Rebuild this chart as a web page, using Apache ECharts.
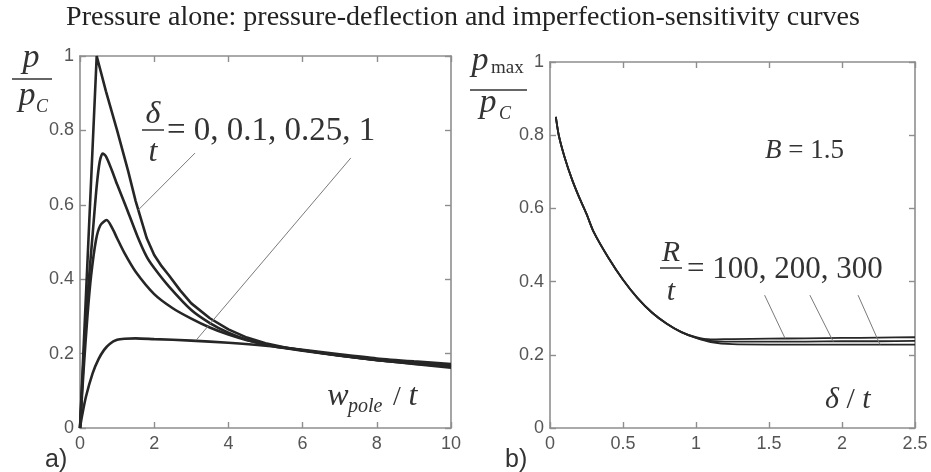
<!DOCTYPE html>
<html>
<head>
<meta charset="utf-8">
<script src="https://cdn.jsdelivr.net/npm/echarts@6/dist/echarts.min.js"></script>
<style>
  html, body { margin: 0; padding: 0; background: #fff; }
  #chart { width: 931px; height: 472px; }
</style>
</head>
<body>
<div id="chart"></div>
<script>
// ---- Panel a): pressure-deflection curves, x = w_pole/t, y = p/p_C ----
const imperfectionLevels = ['0', '0.1', '0.25', '1'];
const curveDelta0 = [[0,0],[0.45,1.0],[0.7,0.905],[1.0,0.80],[1.3,0.69],[1.5,0.61],[1.8,0.51],[2.0,0.465],[2.2,0.435],[2.4,0.41],[2.7,0.37],[3.0,0.335],[3.5,0.295],[4.0,0.265],[4.5,0.243],[5.0,0.228],[5.5,0.217],[6.0,0.209],[7.0,0.195],[8.0,0.183],[9.0,0.172],[10.0,0.162]];
const curveDelta01 = [[0,0],[0.1,0.19],[0.2,0.35],[0.34,0.52],[0.45,0.65],[0.53,0.715],[0.61,0.738],[0.7,0.73],[0.85,0.695],[1.0,0.655],[1.24,0.595],[1.55,0.515],[1.8,0.46],[2.0,0.43],[2.4,0.38],[3.0,0.317],[3.5,0.282],[4.0,0.256],[4.5,0.237],[5.0,0.224],[5.5,0.215],[6.0,0.208],[7.0,0.194],[8.0,0.182],[9.0,0.173],[10.0,0.165]];
const curveDelta025 = [[0,0],[0.1,0.16],[0.2,0.3],[0.3,0.41],[0.43,0.505],[0.55,0.545],[0.72,0.559],[0.88,0.535],[1.0,0.51],[1.2,0.47],[1.5,0.42],[2.0,0.36],[2.5,0.322],[3.0,0.294],[3.5,0.27],[4.0,0.251],[4.5,0.236],[5.0,0.225],[5.5,0.216],[6.0,0.209],[7.0,0.195],[8.0,0.183],[9.0,0.175],[10.0,0.168]];
const curveDelta1 = [[0,0],[0.05,0.03],[0.16,0.084],[0.34,0.147],[0.5,0.185],[0.65,0.21],[0.8,0.226],[1.0,0.237],[1.2,0.24],[1.5,0.241],[2.0,0.239],[3.0,0.235],[4.0,0.229],[5.0,0.221],[6.0,0.21],[7.0,0.198],[8.0,0.187],[9.0,0.179],[10.0,0.172]];
const xTicksA = [0, 2, 4, 6, 8, 10];
const yTicks = [0, 0.2, 0.4, 0.6, 0.8, 1];

// ---- Panel b): imperfection sensitivity, x = delta/t, y = p_max/p_C ----
const radiusRatios = ['100', '200', '300'];
const deltaOverT = [0.04,0.06,0.1,0.15,0.2,0.25,0.3,0.4,0.5,0.6,0.7,0.8,0.9,1.0,1.1,1.25,1.5,1.75,2.0,2.25,2.5];
const pmaxR100 = [0.85,0.8,0.74,0.68,0.63,0.585,0.535,0.465,0.405,0.355,0.315,0.285,0.262,0.248,0.242,0.243,0.244,0.245,0.246,0.247,0.248];
const pmaxR200 = [0.85,0.8,0.74,0.68,0.63,0.585,0.535,0.465,0.405,0.355,0.315,0.285,0.262,0.247,0.238,0.236,0.236,0.236,0.237,0.237,0.238];
const pmaxR300 = [0.85,0.8,0.74,0.68,0.63,0.585,0.535,0.465,0.405,0.355,0.315,0.285,0.262,0.246,0.235,0.229,0.228,0.228,0.228,0.228,0.228];
const xTicksB = [0, 0.5, 1, 1.5, 2, 2.5];

// Leader lines from the annotations to the curves (data units)
const leadersA = [[[3.10,0.739],[1.56,0.585]], [[7.30,0.726],[3.13,0.236]]];
const leadersB = [[[1.47,0.363],[1.61,0.245]], [[1.78,0.363],[1.94,0.236]], [[2.11,0.363],[2.26,0.228]]];

const AXIS_GRAY = '#8e8e8e';
const LABEL_GRAY = '#555';
const SERIF = '"Liberation Serif", "Times New Roman", serif';
const SANS = '"Liberation Sans", Arial, sans-serif';

function pairs(xs, ys) { return xs.map((x, i) => [x, ys[i]]); }

function frameAxis(kind, grid, pos, min, max, interval, showLabels) {
  return {
    type: 'value', gridIndex: grid, position: pos, min, max, interval,
    axisLine: { show: true, onZero: false, lineStyle: { color: AXIS_GRAY, width: 1.6 } },
    axisTick: { show: true, inside: true, length: 6, lineStyle: { color: AXIS_GRAY, width: 1.4 } },
    splitLine: { show: false },
    axisLabel: {
      show: showLabels, color: LABEL_GRAY, fontFamily: SANS, fontSize: 18,
      margin: kind === 'x' ? 7 : 6,
      formatter: v => String(+v.toFixed(2))
    }
  };
}

function curve(name, data, xi, yi, width, smooth) {
  return {
    name, type: 'line', data, xAxisIndex: xi, yAxisIndex: yi,
    showSymbol: false, smooth, silent: true,
    lineStyle: { color: '#262626', width }
  };
}

function leaderSeries(xi, yi, segs) {
  return {
    type: 'line', data: [], xAxisIndex: xi, yAxisIndex: yi, silent: true,
    markLine: {
      silent: true, symbol: 'none', label: { show: false },
      lineStyle: { color: '#7a7a7a', width: 1, type: 'solid' },
      data: segs.map(s => [{ coord: s[0] }, { coord: s[1] }])
    }
  };
}

const chart = echarts.init(document.getElementById('chart'), null, { renderer: 'canvas' });

// text placed by its baseline: y is the baseline, size in px
const txt = (x, baseline, text, size, family, opts) => {
  opts = opts || {};
  return {
    type: 'text', x, y: baseline - 0.34 * size, silent: true,
    style: Object.assign({
      text, fontSize: size, fontFamily: family, fontStyle: opts.italic ? 'italic' : 'normal',
      fill: opts.fill || '#333', align: opts.align || 'left', verticalAlign: 'middle'
    }, opts.rich ? { rich: opts.rich } : {})
  };
};
const bar = (x1, x2, y) => ({
  type: 'line', silent: true, shape: { x1, y1: y, x2, y2: y },
  style: { stroke: '#333', lineWidth: 1.5 }
});

chart.setOption({
  animation: false,
  backgroundColor: '#fff',
  grid: [
    { left: 80, top: 56, width: 371, height: 372 },
    { left: 550, top: 62, width: 365, height: 366 }
  ],
  xAxis: [
    frameAxis('x', 0, 'bottom', xTicksA[0], xTicksA[xTicksA.length - 1], 2, true),
    frameAxis('x', 0, 'top', xTicksA[0], xTicksA[xTicksA.length - 1], 2, false),
    frameAxis('x', 1, 'bottom', xTicksB[0], xTicksB[xTicksB.length - 1], 0.5, true),
    frameAxis('x', 1, 'top', xTicksB[0], xTicksB[xTicksB.length - 1], 0.5, false)
  ],
  yAxis: [
    frameAxis('y', 0, 'left', yTicks[0], yTicks[yTicks.length - 1], 0.2, true),
    frameAxis('y', 0, 'right', yTicks[0], yTicks[yTicks.length - 1], 0.2, false),
    frameAxis('y', 1, 'left', yTicks[0], yTicks[yTicks.length - 1], 0.2, true),
    frameAxis('y', 1, 'right', yTicks[0], yTicks[yTicks.length - 1], 0.2, false)
  ],
  series: [
    curve('δ/t = ' + imperfectionLevels[0], curveDelta0, 0, 0, 2.6, false),
    curve('δ/t = ' + imperfectionLevels[1], curveDelta01, 0, 0, 2.6, 0.25),
    curve('δ/t = ' + imperfectionLevels[2], curveDelta025, 0, 0, 2.6, 0.25),
    curve('δ/t = ' + imperfectionLevels[3], curveDelta1, 0, 0, 2.6, 0.25),
    leaderSeries(0, 0, leadersA),
    curve('R/t = ' + radiusRatios[0], pairs(deltaOverT, pmaxR100), 2, 2, 1.8, 0.25),
    curve('R/t = ' + radiusRatios[1], pairs(deltaOverT, pmaxR200), 2, 2, 1.8, 0.25),
    curve('R/t = ' + radiusRatios[2], pairs(deltaOverT, pmaxR300), 2, 2, 1.8, 0.25),
    leaderSeries(2, 2, leadersB)
  ],
  graphic: [
    // title
    txt(463, 27, 'Pressure alone: pressure-deflection and imperfection-sensitivity curves', 28, SERIF, { align: 'center', fill: '#222' }),

    // panel a) y-axis name p / p_C
    txt(31, 70, 'p', 34, SERIF, { italic: true, align: 'center' }),
    bar(12, 52, 79),
    txt(27, 108, 'p', 34, SERIF, { italic: true, align: 'center' }),
    txt(42, 113, 'C', 18, SERIF, { italic: true, align: 'center' }),

    // panel b) y-axis name p_max / p_C
    txt(480, 73, 'p', 34, SERIF, { italic: true, align: 'center' }),
    txt(491, 74, 'max', 19, SERIF),
    bar(470, 527, 90),
    txt(488, 115, 'p', 34, SERIF, { italic: true, align: 'center' }),
    txt(505, 120, 'C', 18, SERIF, { italic: true, align: 'center' }),

    // panel a) annotation delta/t = 0, 0.1, 0.25, 1
    txt(153, 125, 'δ', 32, SERIF, { italic: true, align: 'center' }),
    bar(142, 164, 130),
    txt(153, 163, 't', 32, SERIF, { italic: true, align: 'center' }),
    txt(167, 143, '= ' + imperfectionLevels.join(', '), 33, SERIF),

    // panel a) x-axis name w_pole / t
    txt(338, 407, 'w', 32, SERIF, { italic: true, align: 'center' }),
    txt(348, 414, 'pole', 20, SERIF, { italic: true }),
    txt(393, 407, '/', 28, SERIF),
    txt(413, 407, 't', 32, SERIF, { italic: true, align: 'center' }),

    // panel b) annotations
    txt(765, 160, '{i|B} = 1.5', 27, SERIF, { rich: { i: { fontStyle: 'italic', fontSize: 27, fontFamily: SERIF } } }),
    txt(671, 263, 'R', 30, SERIF, { italic: true, align: 'center' }),
    bar(660, 682, 268),
    txt(671, 302, 't', 30, SERIF, { italic: true, align: 'center' }),
    txt(687, 280, '= ' + radiusRatios.join(', '), 31, SERIF),

    // panel b) x-axis name delta / t
    txt(825, 410, '{i|δ} / {i|t}', 30, SERIF, { rich: { i: { fontStyle: 'italic', fontSize: 30, fontFamily: SERIF } } }),

    // panel tags
    txt(45, 469, 'a)', 25, SANS),
    txt(505, 469, 'b)', 25, SANS)
  ]
});
</script>
</body>
</html>
